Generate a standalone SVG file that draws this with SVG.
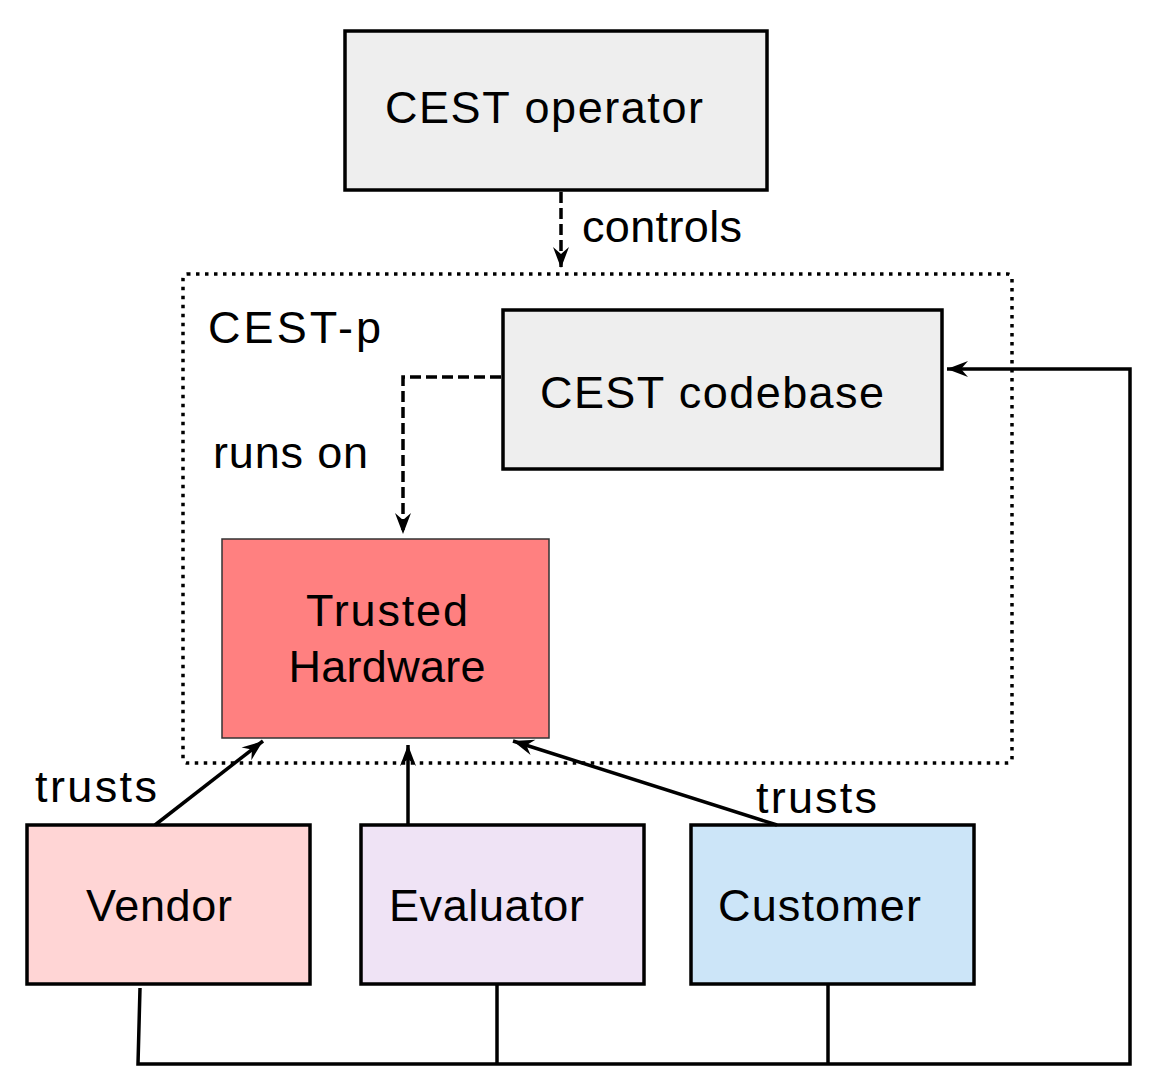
<svg xmlns="http://www.w3.org/2000/svg" width="1154" height="1082" viewBox="0 0 1154 1082">
<style>
text{font-family:"Liberation Sans",Arial,Helvetica,sans-serif;font-size:45px;fill:#000}
.box{stroke:#000;stroke-width:3.5}
.gray{fill:#eeeeee}
.conn{fill:none;stroke:#000;stroke-width:3.5}
.dash{stroke-dasharray:11 5}
.dot{fill:none;stroke:#000;stroke-width:3.5;stroke-dasharray:3.5 5.5}
</style>
<defs>
<marker id="ah" viewBox="-22 -9 24 18" refX="0" refY="0" markerWidth="24" markerHeight="18" markerUnits="userSpaceOnUse" orient="auto">
<path d="M0,0 L-21,-8 L-14,0 L-21,8 Z" fill="#000"/>
</marker>
</defs>
<g id="cest-p">
<rect x="183" y="274" width="829" height="489" rx="4" class="dot"/>
<text x="208" y="343" textLength="173" lengthAdjust="spacing">CEST-p</text>
</g>
<g id="operator">
<rect x="345" y="31" width="422" height="159" class="box gray"/>
<text x="385" y="123" textLength="318" lengthAdjust="spacing">CEST operator</text>
</g>
<g id="codebase">
<rect x="503" y="310" width="439" height="159" class="box gray"/>
<text x="540" y="408" textLength="344" lengthAdjust="spacing">CEST codebase</text>
</g>
<g id="hardware">
<rect x="222" y="539" width="327" height="199" fill="#ff8080" stroke="#333" stroke-width="1.5"/>
<text x="387" y="626" text-anchor="middle" textLength="162" lengthAdjust="spacing">Trusted</text>
<text x="387" y="682" text-anchor="middle" textLength="197" lengthAdjust="spacing">Hardware</text>
</g>
<g id="vendor">
<rect x="27" y="825" width="283" height="159" fill="#ffd5d5" class="box"/>
<text x="86" y="921" textLength="146" lengthAdjust="spacing">Vendor</text>
</g>
<g id="evaluator">
<rect x="361" y="825" width="283" height="159" fill="#efe3f5" class="box"/>
<text x="389" y="921" textLength="195" lengthAdjust="spacing">Evaluator</text>
</g>
<g id="customer">
<rect x="691" y="825" width="283" height="159" fill="#cce5f8" class="box"/>
<text x="718" y="921" textLength="203" lengthAdjust="spacing">Customer</text>
</g>
<g id="connectors">
<path d="M561,192 L561,268" class="conn dash" marker-end="url(#ah)"/>
<text x="582" y="242" textLength="160" lengthAdjust="spacing">controls</text>
<path d="M501,377 L403,377 L403,534" class="conn dash" marker-end="url(#ah)"/>
<text x="213" y="468" textLength="155" lengthAdjust="spacing">runs on</text>
<path d="M155,825 L263,741" class="conn" marker-end="url(#ah)"/>
<text x="35" y="802" textLength="122" lengthAdjust="spacing">trusts</text>
<path d="M408,825 L408,745" class="conn" marker-end="url(#ah)"/>
<path d="M777,825 L513,741" class="conn" marker-end="url(#ah)"/>
<text x="756" y="813" textLength="121" lengthAdjust="spacing">trusts</text>
<path d="M140,988 L138,1064 L1130,1064 L1130,369 L947,369" class="conn" marker-end="url(#ah)"/>
<path d="M497,984 L497,1064" class="conn"/>
<path d="M828,984 L828,1064" class="conn"/>
</g>
</svg>
